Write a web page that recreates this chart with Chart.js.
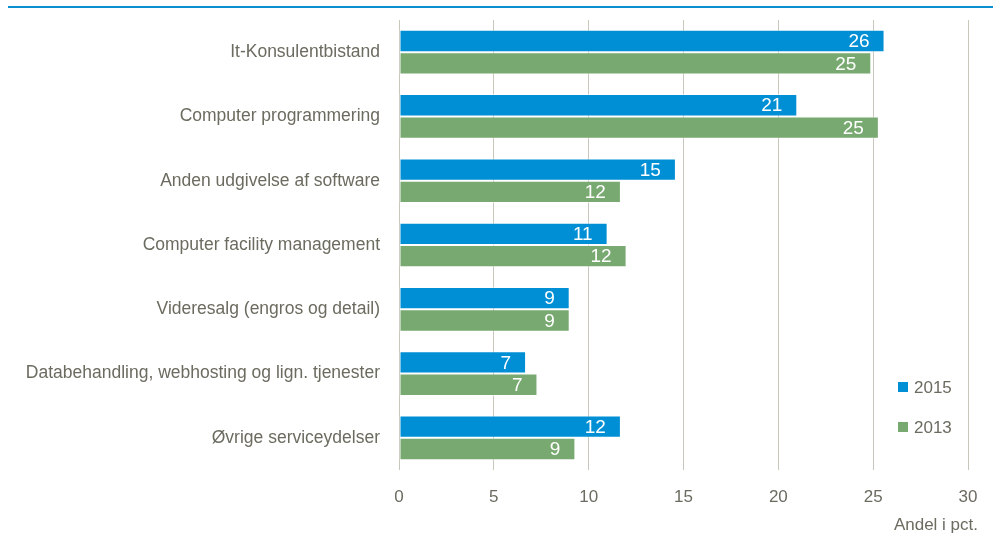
<!DOCTYPE html>
<html>
<head>
<meta charset="utf-8">
<script src="https://cdn.jsdelivr.net/npm/chart.js@4.4.1/dist/chart.umd.min.js"></script>
<style>
  html, body { margin: 0; padding: 0; background: #fff; }
  #wrap { position: relative; width: 993px; height: 535px; }
  #topline { position: absolute; left: 8px; right: 0; top: 6px; height: 2px; background: #0a8fd0; }
  canvas { position: absolute; left: 0; top: 0; }
</style>
</head>
<body>
<div id="wrap">
  <div id="topline"></div>
  <canvas id="chart" width="993" height="535"></canvas>
</div>
<script>
// data
const categories = [
  'It-Konsulentbistand',
  'Computer programmering',
  'Anden udgivelse af software',
  'Computer facility management',
  'Videresalg (engros og detail)',
  'Databehandling, webhosting og lign. tjenester',
  'Øvrige serviceydelser'
];
const values2015 = [25.6, 21.0, 14.6, 11.0, 9.0, 6.7, 11.7];
const values2013 = [24.9, 25.3, 11.7, 12.0, 9.0, 7.3, 9.3];
const xTicks = [0, 5, 10, 15, 20, 25, 30];
const axisTitle = 'Andel i pct.';

const FONT = '"Liberation Sans", Arial, sans-serif';
const GREY = '#6b6b60';

// white value labels at the end of each bar
const barLabels = {
  id: 'barLabels',
  afterDatasetsDraw(chart) {
    const ctx = chart.ctx;
    ctx.save();
    ctx.font = '19px ' + FONT;
    ctx.fillStyle = '#fff';
    ctx.textAlign = 'right';
    ctx.textBaseline = 'middle';
    chart.data.datasets.forEach((ds, i) => {
      chart.getDatasetMeta(i).data.forEach((bar, j) => {
        ctx.fillText(Math.round(ds.data[j]), bar.x - 15, bar.y + 1);
      });
    });
    ctx.restore();
  }
};

// legend in lower right + axis title
const extras = {
  id: 'extras',
  afterDraw(chart) {
    const ctx = chart.ctx;
    ctx.save();
    ctx.font = '17px ' + FONT;
    ctx.textBaseline = 'middle';
    ctx.textAlign = 'left';
    chart.data.datasets.forEach((ds, i) => {
      const y = 387 + i * 40;
      ctx.fillStyle = ds.backgroundColor;
      ctx.fillRect(898, y - 5, 10, 10);
      ctx.fillStyle = GREY;
      ctx.fillText(ds.label, 914, y + 1);
    });
    ctx.textAlign = 'right';
    ctx.fillText(axisTitle, 978, 525);
    ctx.restore();
  }
};

new Chart(document.getElementById('chart'), {
  type: 'bar',
  data: {
    labels: categories,
    datasets: [
      { label: '2015', data: values2015, backgroundColor: '#008fd5', borderColor: 'rgba(255,255,255,0.55)', borderWidth: 1, borderSkipped: false },
      { label: '2013', data: values2013, backgroundColor: '#78a970', borderColor: 'rgba(255,255,255,0.55)', borderWidth: 1, borderSkipped: false }
    ]
  },
  options: {
    indexAxis: 'y',
    responsive: false,
    animation: false,
    layout: { padding: { left: 0, right: 25, top: 20, bottom: 0 } },
    datasets: { bar: { categoryPercentage: 0.695, barPercentage: 1.0 } },
    plugins: { legend: { display: false }, tooltip: { enabled: false } },
    scales: {
      x: {
        min: 0, max: 30,
        afterBuildTicks(scale) { scale.ticks = xTicks.map(v => ({ value: v })); },
        afterFit(scale) { scale.height = 65; scale.paddingLeft = 0; scale.paddingRight = 0; },
        grid: { color: '#c9c6bb', lineWidth: 1, drawTicks: false },
        border: { display: false },
        ticks: { color: GREY, font: { family: FONT, size: 17 }, padding: 17 }
      },
      y: {
        afterFit(scale) { scale.width = 399; scale.paddingTop = 0; scale.paddingBottom = 0; },
        grid: { display: false },
        border: { display: false },
        ticks: { color: GREY, font: { family: FONT, size: 17.5 }, padding: 11 }
      }
    }
  },
  plugins: [barLabels, extras]
});
</script>
</body>
</html>
